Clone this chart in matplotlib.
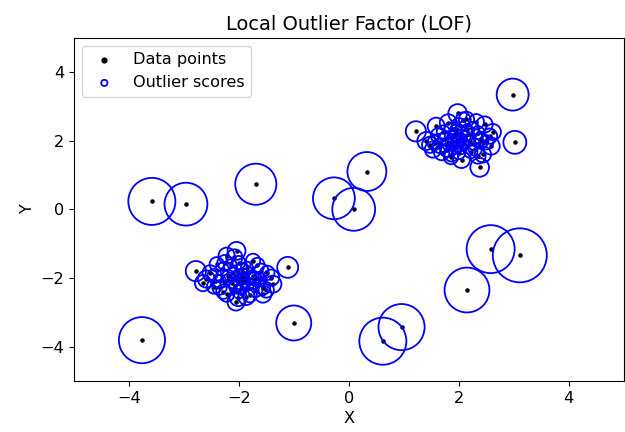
import numpy as np
import matplotlib.pyplot as plt

plt.rcParams["font.size"] = 11.6

# two dense groups of inliers
cluster_a_x = [1.98, 1.81, 2.14, 2.47, 1.59, 1.93, 2.17, 2.35, 2.56, 1.41,
               1.56, 1.81, 1.99, 2.41, 1.53, 1.69, 1.87, 2.05, 2.44, 2.59,
               2.05, 1.90, 2.10, 1.95, 2.20, 1.75, 2.25, 1.85, 2.00, 2.30,
               1.65, 2.15, 1.72, 2.40, 2.00, 1.90, 2.12, 2.28, 1.78, 2.08,
               1.62, 2.35, 2.50, 1.95, 2.22, 1.48, 2.62, 1.86, 2.04, 2.32]
cluster_a_y = [2.79, 2.52, 2.62, 2.47, 2.42, 2.18, 2.18, 2.23, 2.13, 1.99,
               1.94, 1.89, 1.94, 1.99, 1.74, 1.65, 1.60, 1.45, 1.60, 1.84,
               2.05, 2.10, 1.90, 1.80, 2.00, 2.05, 2.35, 2.35, 2.45, 1.75,
               1.85, 2.30, 2.25, 2.05, 1.65, 1.95, 2.12, 1.90, 1.72, 2.60,
               2.15, 1.55, 1.95, 2.30, 1.68, 1.88, 2.25, 1.52, 1.78, 2.55]
cluster_a_r = [0.12, 0.10, 0.08, 0.09, 0.10, 0.06, 0.05, 0.06, 0.08, 0.11,
               0.07, 0.05, 0.05, 0.07, 0.09, 0.08, 0.07, 0.10, 0.09, 0.10,
               0.04, 0.05, 0.04, 0.05, 0.04, 0.06, 0.06, 0.05, 0.07, 0.06,
               0.07, 0.05, 0.06, 0.06, 0.06, 0.04, 0.04, 0.05, 0.06, 0.08,
               0.07, 0.08, 0.07, 0.05, 0.06, 0.09, 0.09, 0.07, 0.05, 0.08]

cluster_b_x = [-2.04, -2.25, -1.74, -1.95, -1.59, -2.44, -2.59, -2.19, -1.92, -1.71,
               -1.41, -2.07, -1.83, -2.35, -1.56, -2.22, -2.01, -1.86, -1.56, -1.38,
               -2.05, -1.90, -2.10, -1.95, -2.20, -1.75, -2.30, -1.85, -2.00, -1.70,
               -2.35, -2.15, -1.72, -2.45, -2.00, -1.92, -2.12, -2.28, -1.62, -2.08,
               -2.52, -1.50, -1.48, -2.05, -2.22, -1.80, -2.65, -1.66, -1.95, -2.40]
cluster_b_y = [-1.21, -1.55, -1.50, -1.74, -1.79, -1.94, -2.03, -1.94, -1.99, -2.03,
               -1.99, -2.23, -2.18, -2.28, -2.28, -2.47, -2.57, -2.55, -2.47, -2.18,
               -1.95, -2.10, -1.85, -2.30, -2.05, -1.95, -1.75, -1.70, -1.55, -2.35,
               -2.10, -1.65, -2.15, -2.25, -2.40, -1.88, -2.15, -2.40, -2.05, -1.40,
               -1.85, -2.35, -1.85, -2.70, -1.35, -2.50, -2.15, -1.62, -2.05, -1.60]
cluster_b_r = [0.11, 0.08, 0.07, 0.05, 0.07, 0.07, 0.10, 0.05, 0.05, 0.06,
               0.09, 0.05, 0.05, 0.07, 0.07, 0.08, 0.10, 0.09, 0.10, 0.10,
               0.04, 0.05, 0.04, 0.05, 0.04, 0.05, 0.06, 0.05, 0.06, 0.07,
               0.06, 0.06, 0.05, 0.07, 0.06, 0.04, 0.04, 0.07, 0.06, 0.09,
               0.08, 0.08, 0.07, 0.10, 0.09, 0.07, 0.09, 0.07, 0.04, 0.07]

# scattered outliers
outlier_x = [2.98, 3.02, 1.22, 2.38, -3.58, -2.96, -1.69, -0.27, 0.09, 0.33,
             -2.78, -1.11, -3.76, -1.00, 0.62, 0.96, 2.15, 2.58, 3.11]
outlier_y = [3.34, 1.95, 2.27, 1.22, 0.23, 0.15, 0.73, 0.32, 0.00, 1.10,
             -1.80, -1.69, -3.81, -3.31, -3.84, -3.43, -2.35, -1.16, -1.34]
outlier_r = [0.35, 0.18, 0.14, 0.12, 0.76, 0.63, 0.58, 0.60, 0.63, 0.52,
             0.14, 0.15, 0.73, 0.42, 0.76, 0.73, 0.69, 0.79, 1.00]

X = np.column_stack([cluster_a_x + cluster_b_x + outlier_x,
                     cluster_a_y + cluster_b_y + outlier_y])
radius = np.array(cluster_a_r + cluster_b_r + outlier_r)

fig, ax = plt.subplots(figsize=(6.25, 4.32), dpi=100)
fig.subplots_adjust(left=0.118, right=0.998, top=0.913, bottom=0.118)

ax.scatter(X[:, 0], X[:, 1], color="k", s=5.0, label="Data points")
ax.scatter(X[:, 0], X[:, 1], s=1512 * radius, edgecolors="b",
           facecolors="none", linewidths=1.3, label="Outlier scores")

ax.set_xlim(-5, 5)
ax.set_ylim(-5, 5)
ax.set_xlabel("X")
ax.set_ylabel("Y")
ax.set_title("Local Outlier Factor (LOF)")

leg = ax.legend(loc="upper left")
leg.legend_handles[0].set_sizes([12])
leg.legend_handles[1].set_sizes([20])

fig.savefig("out.png", dpi=100)
